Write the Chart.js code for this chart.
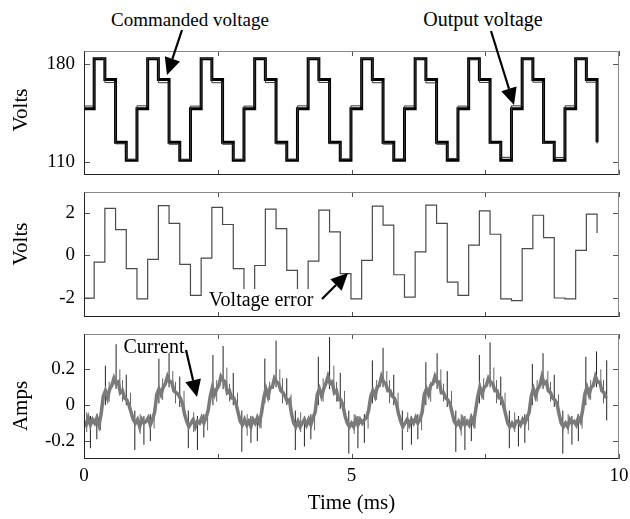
<!DOCTYPE html>
<html lang="en">
<head>
<meta charset="UTF-8">
<title>Commanded voltage, output voltage, error and current</title>
<script src="https://cdn.jsdelivr.net/npm/chart.js"></script>
<style>
  body { margin: 0; background: #fff; }
  #wrap { position: relative; width: 630px; height: 519px; font-family: "Liberation Serif", "Times New Roman", serif; color: #000; }
  .panel { position: absolute; left: 0; }
  .note { position: absolute; font-size: 20px; line-height: 1; white-space: nowrap; transform: translate(-50%, -50%); }
  .ylab { position: absolute; font-size: 21px; line-height: 1; white-space: nowrap; transform: translate(-50%, -50%) rotate(-90deg); }
  #arrows { position: absolute; left: 0; top: 0; pointer-events: none; }
</style>
</head>
<body>
<div id="wrap">
  <canvas id="voltChart" class="panel" width="630" height="144" style="top:41px"></canvas>
  <canvas id="errChart" class="panel" width="630" height="145" style="top:182px"></canvas>
  <canvas id="ampChart" class="panel" width="630" height="195" style="top:324px"></canvas>

  <div class="ylab" style="left:20px; top:110px">Volts</div>
  <div class="ylab" style="left:20px; top:244px">Volts</div>
  <div class="ylab" style="left:20px; top:406px">Amps</div>

  <div class="note" style="left:190px; top:19px; font-size:19px">Commanded voltage</div>
  <div class="note" style="left:483px; top:19px">Output voltage</div>
  <div class="note" style="left:261px; top:299px; background:#fff; padding:0 2px">Voltage error</div>
  <div class="note" style="left:154px; top:346px">Current</div>
  <svg id="arrows" width="630" height="519"></svg>
</div>

<script>
// time of each 5 kHz step (ms)
const stepTimes = [0, 0.19, 0.39, 0.59, 0.79, 0.99, 1.19, 1.39, 1.59, 1.79, 1.99, 2.19, 2.39, 2.59, 2.79,
  2.99, 3.19, 3.39, 3.59, 3.79, 3.99, 4.19, 4.39, 4.59, 4.79, 4.99, 5.19, 5.39, 5.59, 5.79, 5.99,
  6.19, 6.39, 6.59, 6.79, 6.99, 7.19, 7.39, 7.59, 7.79, 7.99, 8.19, 8.39, 8.59, 8.79, 8.99, 9.19, 9.39, 9.59];

// commanded voltage (V)
const commanded = [148, 184, 169, 124, 111, 148, 184, 169, 124, 111, 148, 184, 169, 124, 111,
  148, 184, 169, 124, 111, 148, 184, 169, 124, 111, 148, 184, 169, 124, 111,
  148, 184, 169, 124, 111, 148, 184, 169, 124, 111, 148, 184, 169, 124, 111,
  148, 184, 169, 124];

// output voltage (V)
const outputV = [150.0, 184.3, 166.8, 122.8, 111.6, 150.1, 184.2, 166.7, 122.5, 111.4, 149.9, 184.1, 166.7, 122.5, 111.6,
  149.9, 184.5, 166.8, 122.7, 111.7, 150.1, 184.3, 166.9, 122.9, 111.9, 150.1, 184.2, 166.7, 122.6, 111.9,
  150.0, 183.8, 166.6, 122.5, 112.3, 149.9, 183.5, 166.9, 123.0, 113.1, 150.1, 183.7, 167.1, 123.2, 113.0,
  150.1, 183.8, 167.1, 122.9];

// voltage error (V)
const voltError = [-2.03, -0.32, 2.22, 1.22, -0.63, -2.06, -0.19, 2.35, 1.51, -0.43, -1.90, -0.13, 2.27, 1.46, -0.63,
  -1.86, -0.48, 2.19, 1.27, -0.71, -2.06, -0.27, 2.14, 1.11, -0.87, -2.06, -0.24, 2.33, 1.43, -0.92,
  -1.98, 0.16, 2.38, 1.51, -1.27, -1.90, 0.48, 2.11, 1.00, -2.06, -2.14, 0.32, 1.90, 0.84, -2.02,
  -2.06, 0.24, 1.95, 1.06];

// current (A), sampled every 0.04 ms from t = 0
const currentDt = 0.04;
const current = [
  -0.09, -0.11, -0.07, -0.11, -0.08, -0.10, -0.07, -0.11, -0.05, 0.05, 0.08, 0.04, 0.09, 0.11, 0.15, 0.12, 0.13, 0.07, 0.08, 0.04, 0.03, 0.00, -0.04, -0.08, -0.10,
  -0.08, -0.12, -0.08, -0.10, -0.09, -0.07, -0.11, -0.08, -0.04, 0.06, 0.09, 0.06, 0.10, 0.12, 0.16, 0.13, 0.13, 0.08, 0.07, 0.06, 0.04, 0.01, -0.05, -0.09, -0.12,
  -0.10, -0.08, -0.12, -0.09, -0.10, -0.07, -0.10, -0.07, -0.03, 0.05, 0.10, 0.06, 0.09, 0.11, 0.16, 0.14, 0.13, 0.07, 0.08, 0.04, 0.04, 0.01, -0.04, -0.09, -0.11,
  -0.08, -0.11, -0.09, -0.12, -0.08, -0.10, -0.07, -0.10, -0.04, 0.04, 0.09, 0.05, 0.10, 0.10, 0.15, 0.13, 0.12, 0.08, 0.07, 0.05, 0.02, 0.03, -0.05, -0.10, -0.12,
  -0.09, -0.12, -0.10, -0.08, -0.11, -0.08, -0.11, -0.07, -0.04, 0.06, 0.09, 0.05, 0.09, 0.12, 0.16, 0.12, 0.13, 0.07, 0.08, 0.03, 0.03, 0.00, -0.06, -0.10, -0.12,
  -0.10, -0.12, -0.08, -0.11, -0.08, -0.10, -0.08, -0.07, -0.03, 0.05, 0.08, 0.05, 0.10, 0.11, 0.16, 0.13, 0.12, 0.08, 0.08, 0.05, 0.04, 0.01, -0.05, -0.09, -0.12,
  -0.10, -0.08, -0.11, -0.08, -0.10, -0.07, -0.10, -0.08, -0.04, 0.06, 0.09, 0.06, 0.11, 0.12, 0.16, 0.13, 0.13, 0.07, 0.07, 0.04, 0.03, 0.01, -0.04, -0.09, -0.11,
  -0.09, -0.12, -0.08, -0.11, -0.09, -0.11, -0.07, -0.10, -0.03, 0.05, 0.10, 0.06, 0.10, 0.11, 0.15, 0.13, 0.12, 0.08, 0.08, 0.04, 0.04, 0.00, -0.05, -0.10, -0.12,
  -0.10, -0.12, -0.09, -0.09, -0.11, -0.08, -0.10, -0.07, -0.04, 0.05, 0.09, 0.05, 0.09, 0.11, 0.16, 0.12, 0.13, 0.08, 0.07, 0.04, 0.03, 0.01, -0.05, -0.10, -0.12,
  -0.10, -0.12, -0.08, -0.10, -0.09, -0.11, -0.07, -0.09, -0.03, 0.06, 0.10, 0.06, 0.10, 0.11, 0.16, 0.13, 0.13, 0.08, 0.07, 0.04
];

// large switching spikes on the current trace
const spikeTimes = [0.12, 0.24, 0.40, 0.60, 0.79, 0.95, 1.12, 1.24, 1.40, 1.59, 1.79, 1.95, 2.12, 2.24, 2.41, 2.60, 2.79, 2.95,
  3.12, 3.24, 3.38, 3.59, 3.79, 3.95, 4.12, 4.24, 4.38, 4.59, 4.79, 4.95, 5.12, 5.24, 5.39, 5.59, 5.79, 5.95,
  6.12, 6.24, 6.39, 6.60, 6.79, 6.95, 7.12, 7.24, 7.39, 7.59, 7.79, 7.95, 8.12, 8.24, 8.38, 8.58, 8.79, 8.95,
  9.12, 9.24, 9.38, 9.58, 9.77];
const spikeHigh = [-0.06, -0.05, 0.22, 0.34, 0.17, -0.03, -0.06, -0.05, 0.26, 0.29, 0.16, -0.03, -0.06, -0.05, 0.28, 0.33, 0.18, -0.03,
  -0.06, -0.05, 0.26, 0.36, 0.15, -0.03, -0.06, -0.05, 0.27, 0.38, 0.18, -0.03, -0.06, -0.05, 0.25, 0.32, 0.17, -0.03,
  -0.06, -0.05, 0.24, 0.29, 0.19, -0.03, -0.06, -0.05, 0.28, 0.35, 0.16, -0.03, -0.06, -0.05, 0.23, 0.29, 0.17, -0.03,
  -0.06, -0.05, 0.27, 0.30, 0.25];
const spikeLow = [-0.24, -0.19, 0.00, 0.09, 0.00, -0.25, -0.22, -0.20, 0.01, 0.10, -0.01, -0.24, -0.25, -0.18, 0.00, 0.09, 0.00, -0.26,
  -0.21, -0.20, 0.01, 0.10, 0.00, -0.25, -0.23, -0.19, 0.00, 0.09, -0.02, -0.27, -0.24, -0.21, 0.01, 0.10, 0.00, -0.25,
  -0.22, -0.19, 0.00, 0.09, -0.01, -0.26, -0.25, -0.20, 0.01, 0.10, 0.00, -0.24, -0.23, -0.21, 0.00, 0.09, -0.01, -0.27,
  -0.22, -0.20, 0.00, 0.10, -0.085];

// smaller noise spikes on the current trace
const noiseTimes = [0.05, 0.31, 0.47, 0.67, 0.72, 0.87, 1.05, 1.31, 1.47, 1.66, 1.71, 1.87, 2.05, 2.31, 2.48, 2.67, 2.72, 2.87,
  3.05, 3.31, 3.47, 3.66, 3.71, 3.87, 4.05, 4.31, 4.47, 4.67, 4.72, 4.87, 5.05, 5.31, 5.47, 5.66, 5.71, 5.87,
  6.05, 6.31, 6.48, 6.67, 6.72, 6.87, 7.05, 7.31, 7.47, 7.66, 7.71, 7.87, 8.05, 8.31, 8.47, 8.67, 8.72, 8.87,
  9.05, 9.31, 9.47, 9.66, 9.71];
const noiseHigh = [-0.04, -0.03, 0.13, 0.20, 0.14, 0.07, -0.05, -0.02, 0.15, 0.19, 0.13, 0.08, -0.04, -0.03, 0.14, 0.21, 0.12, 0.07,
  -0.05, -0.02, 0.13, 0.20, 0.15, 0.06, -0.04, -0.03, 0.15, 0.22, 0.13, 0.08, -0.05, -0.02, 0.14, 0.19, 0.14, 0.07,
  -0.04, -0.03, 0.13, 0.20, 0.12, 0.08, -0.05, -0.02, 0.15, 0.21, 0.14, 0.07, -0.04, -0.03, 0.14, 0.19, 0.13, 0.06,
  -0.05, -0.02, 0.14, 0.20, 0.14];
const noiseLow = [-0.15, -0.14, 0.02, 0.08, 0.02, -0.04, -0.16, -0.13, 0.03, 0.09, 0.01, -0.05, -0.15, -0.14, 0.02, 0.08, 0.02, -0.04,
  -0.17, -0.13, 0.03, 0.09, 0.01, -0.05, -0.15, -0.14, 0.02, 0.08, 0.02, -0.04, -0.16, -0.13, 0.03, 0.09, 0.01, -0.05,
  -0.15, -0.14, 0.02, 0.08, 0.02, -0.04, -0.17, -0.13, 0.03, 0.09, 0.01, -0.05, -0.15, -0.14, 0.02, 0.08, 0.02, -0.04,
  -0.16, -0.13, 0.03, 0.09, 0.01];

const xLabels = [0, 5, 10];
const xMarks = [0, 2.5, 5, 7.5, 10];
const voltTicks = [110, 180];
const errTicks = [-2, 0, 2];
const ampTicks = [-0.2, 0, 0.2];

const serif = '"Liberation Serif", "Times New Roman", serif';

// inner tick marks and box round each panel
const framePlugin = {
  id: 'frame',
  afterDatasetsDraw(chart, args, opts) {
    const { ctx, chartArea: a, scales: { x, y } } = chart;
    ctx.save();
    ctx.lineWidth = 1;
    ctx.strokeStyle = '#555';
    ctx.beginPath();
    xMarks.forEach(v => {
      const px = Math.round(x.getPixelForValue(v)) + 0.5;
      ctx.moveTo(px, a.top); ctx.lineTo(px, a.top + 5);
      ctx.moveTo(px, a.bottom); ctx.lineTo(px, a.bottom - 5);
    });
    opts.ticks.forEach(v => {
      const py = Math.round(y.getPixelForValue(v)) + 0.5;
      ctx.moveTo(a.left, py); ctx.lineTo(a.left + 6, py);
      ctx.moveTo(a.right, py); ctx.lineTo(a.right - 6, py);
    });
    ctx.stroke();
    const l = Math.round(a.left) + 0.5, r = Math.round(a.right) - 0.5;
    const t = Math.round(a.top) + 0.5, b = Math.round(a.bottom) - 0.5;
    ctx.strokeStyle = '#888';
    ctx.beginPath();
    ctx.moveTo(l, t); ctx.lineTo(r, t); ctx.lineTo(r, b);
    ctx.stroke();
    ctx.strokeStyle = '#222';
    ctx.beginPath();
    ctx.moveTo(l, t); ctx.lineTo(l, b); ctx.lineTo(r, b);
    ctx.stroke();
    ctx.restore();
  }
};

function pts(xs, ys) {
  return xs.map((t, i) => ({ x: t, y: ys[i] }));
}

function spikes(times, lows, highs) {
  const out = [];
  times.forEach((t, i) => {
    out.push({ x: t, y: lows[i] }, { x: t, y: highs[i] }, { x: t, y: null });
  });
  return out;
}

function makePanel(id, datasets, yMin, yMax, yTicks, showX) {
  const chartCfg = {
    type: 'line',
    data: { datasets: datasets },
    options: {
      responsive: false,
      animation: false,
      events: [],
      layout: { padding: { top: 10, bottom: showX ? 0 : 10, left: 0, right: 11 } },
      plugins: { legend: { display: false }, tooltip: { enabled: false }, frame: { ticks: yTicks } },
      elements: { point: { radius: 0 }, line: { tension: 0 } },
      scales: {
        x: {
          type: 'linear', min: 0, max: 10, display: showX,
          grid: { display: false, drawTicks: false }, border: { display: false },
          afterBuildTicks: s => { s.ticks = xLabels.map(v => ({ value: v })); },
          afterFit: s => {
            s.paddingLeft = 0; s.paddingRight = 0;
            s.height = showX ? 60 : 0;
          },
          ticks: { padding: 6, color: '#000', font: { family: serif, size: 19 }, callback: v => String(v) },
          title: { display: true, text: 'Time (ms)', color: '#000', font: { family: serif, size: 21 }, padding: { top: 0, bottom: 3 } }
        },
        y: {
          type: 'linear', min: yMin, max: yMax,
          grid: { display: false, drawTicks: false }, border: { display: false },
          afterBuildTicks: s => { s.ticks = yTicks.map(v => ({ value: v })); },
          afterFit: s => { s.width = 84; s.paddingTop = 0; s.paddingBottom = 0; },
          ticks: { padding: 9, color: '#000', font: { family: serif, size: 19 }, callback: v => String(v) }
        }
      }
    },
    plugins: [framePlugin]
  };
  return new Chart(document.getElementById(id), chartCfg);
}

// top: commanded and output voltage
makePanel('voltChart', [
  { data: pts(stepTimes, outputV), stepped: true, borderColor: '#333', borderWidth: 1 },
  { data: pts(stepTimes, commanded), stepped: true, borderColor: '#000', borderWidth: 3, borderJoinStyle: 'miter' }
], 100.4, 189.5, voltTicks, false);

// middle: voltage error
makePanel('errChart', [
  { data: pts(stepTimes, voltError), stepped: true, borderColor: '#4a4a4a', borderWidth: 1.2 }
], -2.92, 3.0, errTicks, false);

// bottom: current
const currentPts = current.map((v, i) => ({ x: i * currentDt, y: v }));
makePanel('ampChart', [
  { data: currentPts, borderColor: '#7a7a7a', borderWidth: 3.5 },
  { data: spikes(noiseTimes, noiseLow, noiseHigh), borderColor: '#666', borderWidth: 1, spanGaps: false },
  { data: spikes(spikeTimes, spikeLow, spikeHigh), borderColor: '#222', borderWidth: 1, spanGaps: false },
  { data: currentPts, borderColor: '#000', borderWidth: 1.3 }
], -0.3, 0.397, ampTicks, true);

// annotation arrows
function arrow(x1, y1, x2, y2) {
  const dx = x2 - x1, dy = y2 - y1, len = Math.hypot(dx, dy);
  const ux = dx / len, uy = dy / len;
  const bx = x2 - 17 * ux, by = y2 - 17 * uy;
  const px = -uy * 8, py = ux * 8;
  return '<line x1="' + x1 + '" y1="' + y1 + '" x2="' + bx + '" y2="' + by + '" stroke="#000" stroke-width="2.2"/>' +
    '<polygon fill="#000" points="' + x2 + ',' + y2 + ' ' + (bx + px) + ',' + (by + py) + ' ' + (bx - px) + ',' + (by - py) + '"/>';
}
document.getElementById('arrows').innerHTML =
  arrow(182, 30, 167, 75) + arrow(491, 31, 514, 105) + arrow(322, 299, 348, 273) + arrow(186, 350, 197, 397);
</script>
</body>
</html>
